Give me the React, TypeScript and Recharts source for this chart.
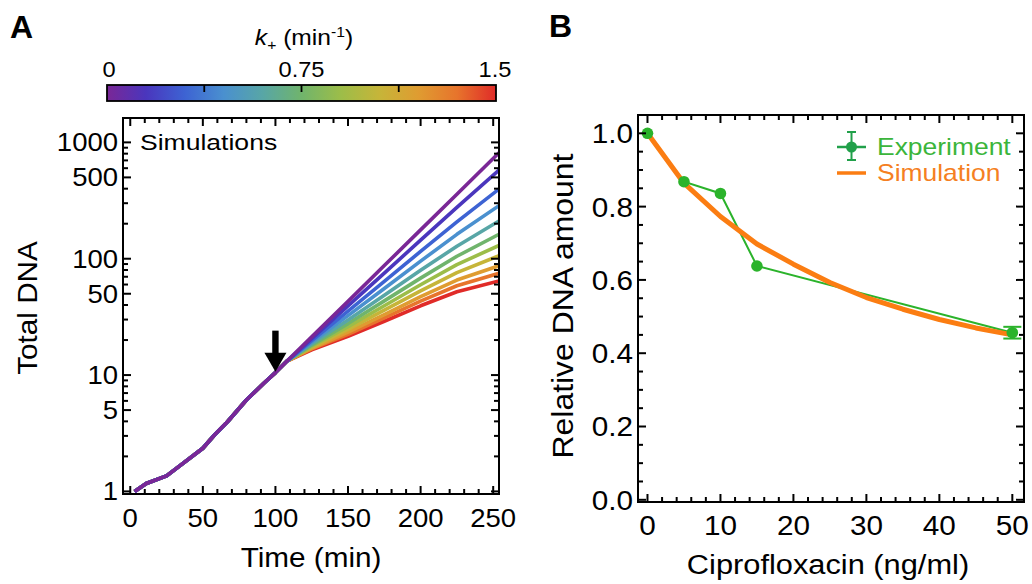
import { LineChart, Line, XAxis, YAxis, ReferenceDot, ErrorBar } from 'recharts';

const FONT = '"Liberation Sans", Arial, Helvetica, sans-serif';

// ---- Panel A: total DNA vs time for k+ = 0 ... 1.5 ----
const kValues = [0, 0.15, 0.3, 0.45, 0.6, 0.75, 0.9, 1.05, 1.2, 1.35, 1.5];
const kColors = [
  '#7a2796', '#4a36bd', '#3d63d3', '#4a90cf', '#58a6a6', '#70b46c',
  '#9cbd49', '#c6b539', '#df9c31', '#e7742c', '#e02b28',
];
// shared growth before the drug is added
const trunkTimes = [3, 11, 25, 37, 50, 58, 67, 80, 92, 100, 108];
const trunkDNA = [1.0, 1.17, 1.36, 1.77, 2.35, 3.05, 3.97, 6.1, 8.5, 10.5, 13.2];
// after the arrow, one row per k+
const branchTimes = [125, 150, 175, 200, 225, 254];
const branchDNA = [
  [21.3, 43, 87.3, 177, 358, 815],
  [20.6, 39.3, 75.2, 144.5, 276, 578],
  [19.8, 35.4, 63.8, 115.6, 207, 397],
  [19.2, 32.4, 55.5, 95.3, 162, 286],
  [18.6, 29.8, 48.5, 79.6, 128, 211],
  [18.1, 27.7, 43.4, 68.1, 105, 162],
  [17.7, 26.1, 39.4, 59.8, 89, 130],
  [17.4, 24.7, 36.1, 53, 76, 106],
  [17.0, 23.4, 33.1, 47.2, 65.6, 87],
  [16.8, 22.4, 31, 43.2, 58.6, 75],
  [16.5, 21.5, 29, 39.4, 52, 64.5],
];
const drugTime = 100;
const drugDNA = 10.7;

const axMajorX = [0, 50, 100, 150, 200, 250];
const axLabelsX = ['0', '50', '100', '150', '200', '250'];
const axMajorY = [1, 5, 10, 50, 100, 500, 1000];
const axLabelsY = ['1', '5', '10', '50', '100', '500', '1000'];
const cbTicks = [0, 0.75, 1.5];
const cbTickLabels = ['0', '0.75', '1.5'];
const cbInnerTicks = [0.375, 0.75, 1.125];

// ---- Panel B: relative DNA vs ciprofloxacin ----
const expConc = [0, 5, 10, 15, 50];
const expDNA = [1.0, 0.868, 0.836, 0.638, 0.456];
const expErr = [0, 0, 0, 0, 0.016];
const simConc = [0, 5, 10, 15, 20, 25, 30, 35, 40, 45, 50];
const simDNA = [1.0, 0.864, 0.773, 0.698, 0.643, 0.593, 0.552, 0.52, 0.492, 0.469, 0.45];

const bxMajor = [0, 10, 20, 30, 40, 50];
const bxLabels = ['0', '10', '20', '30', '40', '50'];
const byMajor = [0, 0.2, 0.4, 0.6, 0.8, 1.0];
const byLabels = ['0.0', '0.2', '0.4', '0.6', '0.8', '1.0'];

const GREEN = '#2bb32b';
const ORANGE = '#fb7d12';

const rowsA = [
  ...trunkTimes.map((t, i) => {
    const r: Record<string, number> = { t };
    kValues.forEach((_, j) => (r['k' + j] = trunkDNA[i]));
    return r;
  }),
  ...branchTimes.map((t, i) => {
    const r: Record<string, number> = { t };
    kValues.forEach((_, j) => (r['k' + j] = branchDNA[j][i]));
    return r;
  }),
];
const expData = expConc.map((c, i) => ({ c, v: expDNA[i], err: expErr[i] }));
const simData = simConc.map((c, i) => ({ c, v: simDNA[i] }));

// minor tick helpers
const linTicks = (from: number, to: number, step: number) => {
  const out: number[] = [];
  for (let v = from; v <= to + 1e-9; v += step) out.push(+v.toFixed(6));
  return out;
};
const logTicks = () => {
  const out: number[] = [];
  [1, 10, 100, 1000].forEach((d) => {
    for (let m = 1; m <= 9; m++) if (d * m <= 1600) out.push(d * m);
  });
  return out;
};

// stretched text (the source figure uses a wide sans font)
const SText = ({ x, y, s = 1.1, size, anchor = 'start', rotate = 0, fill = '#000', weight = 'normal', children }: any) => (
  <text
    transform={`translate(${x},${y}) rotate(${rotate}) scale(${s},1)`}
    fontSize={size}
    fontFamily={FONT}
    textAnchor={anchor}
    fill={fill}
    fontWeight={weight}
  >
    {children}
  </text>
);

// inward ticks on all four sides, labels only on bottom / left
type Side = 'bottom' | 'top' | 'left' | 'right';
const makeTick = (side: Side, majors: number[], labels: string[] | null, size: number, s: number) =>
  (props: any) => {
    const { x, y, payload } = props;
    const i = majors.findIndex((m) => Math.abs(m - payload.value) < 1e-6);
    const len = i >= 0 ? 8 : 5;
    let d = '';
    if (side === 'bottom') d = `M${x},${y}V${y - len}`;
    if (side === 'top') d = `M${x},${y}V${y + len}`;
    if (side === 'left') d = `M${x},${y}H${x + len}`;
    if (side === 'right') d = `M${x},${y}H${x - len}`;
    const label = labels && i >= 0 ? labels[i] : null;
    return (
      <g>
        <path d={d} stroke="#000" strokeWidth={2} fill="none" />
        {label && side === 'bottom' && (
          <SText x={x} y={y + 33} size={size} s={s} anchor="middle">{label}</SText>
        )}
        {label && side === 'left' && (
          <SText x={x - 5} y={y + size * 0.36} size={size} s={s} anchor="end">{label}</SText>
        )}
      </g>
    );
  };

const frame = { stroke: '#000', strokeWidth: 2, strokeLinecap: 'square' as const };

const Arrow = (p: any) => {
  const { cx, cy } = p;
  return (
    <g>
      <rect x={cx - 3.2} y={cy - 41} width={6.4} height={24} fill="#000" />
      <polygon points={`${cx - 11},${cy - 19} ${cx + 11},${cy - 19} ${cx},${cy}`} fill="#000" />
    </g>
  );
};

function PanelA() {
  const xDomain = [-5, 254];
  const yDomain = [0.95, 1620];
  const xAll = linTicks(0, 250, 10);
  const yAll = logTicks();
  return (
    <LineChart width={520} height={584} data={rowsA} margin={{ top: 117, right: 20, bottom: 30, left: 63 }}>
      <XAxis dataKey="t" type="number" domain={xDomain} allowDataOverflow ticks={xAll} interval={0}
        tickSize={0} tickMargin={0} height={60} axisLine={frame} tickLine={false}
        tick={makeTick('bottom', axMajorX, axLabelsX, 25, 1.1)} />
      <XAxis xAxisId="top" orientation="top" dataKey="t" type="number" domain={xDomain} allowDataOverflow
        ticks={xAll} interval={0} tickSize={0} tickMargin={0} height={1} axisLine={frame} tickLine={false}
        tick={makeTick('top', axMajorX, null, 25, 1.1)} />
      <YAxis type="number" scale="log" domain={yDomain} allowDataOverflow ticks={yAll} interval={0}
        tickSize={0} tickMargin={0} width={60} axisLine={frame} tickLine={false}
        tick={makeTick('left', axMajorY, axLabelsY, 25, 1.1)} />
      <YAxis yAxisId="right" orientation="right" type="number" scale="log" domain={yDomain} allowDataOverflow
        ticks={yAll} interval={0} tickSize={0} tickMargin={0} width={1} axisLine={frame} tickLine={false}
        tick={makeTick('right', axMajorY, null, 25, 1.1)} />
      {kValues.map((_, j) => kValues.length - 1 - j).map((j) => (
        <Line key={j} dataKey={'k' + j} stroke={kColors[j]} strokeWidth={3.6} dot={false}
          type="linear" strokeLinejoin="round" isAnimationActive={false} />
      ))}
      <ReferenceDot x={drugTime} y={drugDNA} r={0} shape={Arrow} ifOverflow="visible" />
    </LineChart>
  );
}

function PanelB() {
  const xDomain = [-1.3, 51.6];
  const yDomain = [-0.006, 1.05];
  const xAll = linTicks(0, 50, 2);
  const yAll = linTicks(0, 1.05, 0.05);
  return (
    <LineChart width={492} height={584} margin={{ top: 114, right: 7, bottom: 32, left: 38 }}>
      <XAxis dataKey="c" type="number" domain={xDomain} allowDataOverflow ticks={xAll} interval={0}
        tickSize={0} tickMargin={0} height={50} axisLine={frame} tickLine={false}
        tick={makeTick('bottom', bxMajor, bxLabels, 27.5, 1.08)} />
      <XAxis xAxisId="top" orientation="top" dataKey="c" type="number" domain={xDomain} allowDataOverflow
        ticks={xAll} interval={0} tickSize={0} tickMargin={0} height={1} axisLine={frame} tickLine={false}
        tick={makeTick('top', bxMajor, null, 27.5, 1.08)} />
      <YAxis type="number" domain={yDomain} allowDataOverflow ticks={yAll} interval={0}
        tickSize={0} tickMargin={0} width={60} axisLine={frame} tickLine={false}
        tick={makeTick('left', byMajor, byLabels, 27.5, 1.08)} />
      <YAxis yAxisId="right" orientation="right" type="number" domain={yDomain} allowDataOverflow
        ticks={yAll} interval={0} tickSize={0} tickMargin={0} width={1} axisLine={frame} tickLine={false}
        tick={makeTick('right', byMajor, null, 27.5, 1.08)} />
      <Line data={expData} dataKey="v" stroke={GREEN} strokeWidth={2} type="linear"
        dot={{ r: 5.8, fill: GREEN, stroke: GREEN, strokeWidth: 0 }} isAnimationActive={false}>
        <ErrorBar dataKey="err" direction="y" width={9} stroke={GREEN} strokeWidth={2} />
      </Line>
      <Line data={simData} dataKey="v" stroke={ORANGE} strokeWidth={5} type="linear" dot={false}
        strokeLinejoin="round" isAnimationActive={false} />
    </LineChart>
  );
}

const legendB = [
  { name: 'Experiment', color: '#3bb53b', mark: 'error' },
  { name: 'Simulation', color: '#f57f22', mark: 'line' },
];

function Overlay() {
  const cbX = 107;
  const cbW = 389;
  const cbY = 85;
  const cbH = 16;
  const kx = (k: number) => cbX + (k / 1.5) * cbW;
  return (
    <svg width={1032} height={584} style={{ position: 'absolute', left: 0, top: 0, pointerEvents: 'none' }}>
      <defs>
        <linearGradient id="kbar" x1="0" x2="1" y1="0" y2="0">
          {kColors.map((c, i) => (
            <stop key={i} offset={kValues[i] / 1.5} stopColor={c} />
          ))}
        </linearGradient>
      </defs>
      <text x={10} y={38} fontSize={32} fontWeight="bold" fontFamily={FONT}>A</text>
      <text x={549} y={37} fontSize={32} fontWeight="bold" fontFamily={FONT}>B</text>

      {/* colour bar */}
      <SText x={304} y={45} size={22} s={1.12} anchor="middle">
        <tspan fontStyle="italic">k</tspan>
        <tspan fontSize={14} dy={5}>+</tspan>
        <tspan dy={-5}> (min</tspan>
        <tspan fontSize={14} dy={-8}>-1</tspan>
        <tspan dy={8}>)</tspan>
      </SText>
      {cbTicks.map((k, i) => (
        <SText key={k} x={kx(k) + (i === 0 ? 2 : i === 2 ? -1 : 0)} y={77} size={21.5} s={1.1} anchor="middle">
          {cbTickLabels[i]}
        </SText>
      ))}
      <rect x={cbX} y={cbY} width={cbW} height={cbH} fill="url(#kbar)" stroke="#000" strokeWidth={1.8} />
      {cbInnerTicks.map((k) => (
        <line key={k} x1={kx(k)} x2={kx(k)} y1={cbY} y2={cbY + 7} stroke="#000" strokeWidth={1.8} />
      ))}

      {/* panel A texts */}
      <SText x={140} y={150} size={22.5} s={1.18}>Simulations</SText>
      <SText x={311} y={567} size={27} s={1.1} anchor="middle">Time (min)</SText>
      <SText x={37} y={308} size={27} s={1.1} anchor="middle" rotate={-90}>Total DNA</SText>

      {/* panel B texts */}
      <SText x={828} y={574} size={28} s={1.1} anchor="middle">Ciprofloxacin (ng/ml)</SText>
      <SText x={573} y={306} size={29} s={1.1} anchor="middle" rotate={-90}>Relative DNA amount</SText>

      {legendB.map((e, i) => {
        const y = 147 + i * 26;
        return (
          <g key={e.name}>
            {e.mark === 'error' ? (
              <g stroke="#21a04a" strokeWidth={2}>
                <line x1={837} x2={866} y1={y} y2={y} strokeWidth={2.5} />
                <line x1={851.5} x2={851.5} y1={y - 15} y2={y + 13} />
                <line x1={847} x2={856} y1={y - 15} y2={y - 15} />
                <line x1={847} x2={856} y1={y + 13} y2={y + 13} />
                <circle cx={851.5} cy={y} r={5.5} fill="#21a04a" stroke="none" />
              </g>
            ) : (
              <line x1={837} x2={866} y1={y} y2={y} stroke={ORANGE} strokeWidth={3.5} />
            )}
            <SText x={877} y={y + 8} size={23} s={1.15} fill={e.color}>{e.name}</SText>
          </g>
        );
      })}
    </svg>
  );
}

export default function App() {
  return (
    <div style={{ position: 'absolute', left: 0, top: 0, width: 1032, height: 584, background: '#fff', fontFamily: FONT }}>
      <div style={{ position: 'absolute', left: 0, top: 0 }}>
        <PanelA />
      </div>
      <div style={{ position: 'absolute', left: 540, top: 0 }}>
        <PanelB />
      </div>
      <Overlay />
    </div>
  );
}
